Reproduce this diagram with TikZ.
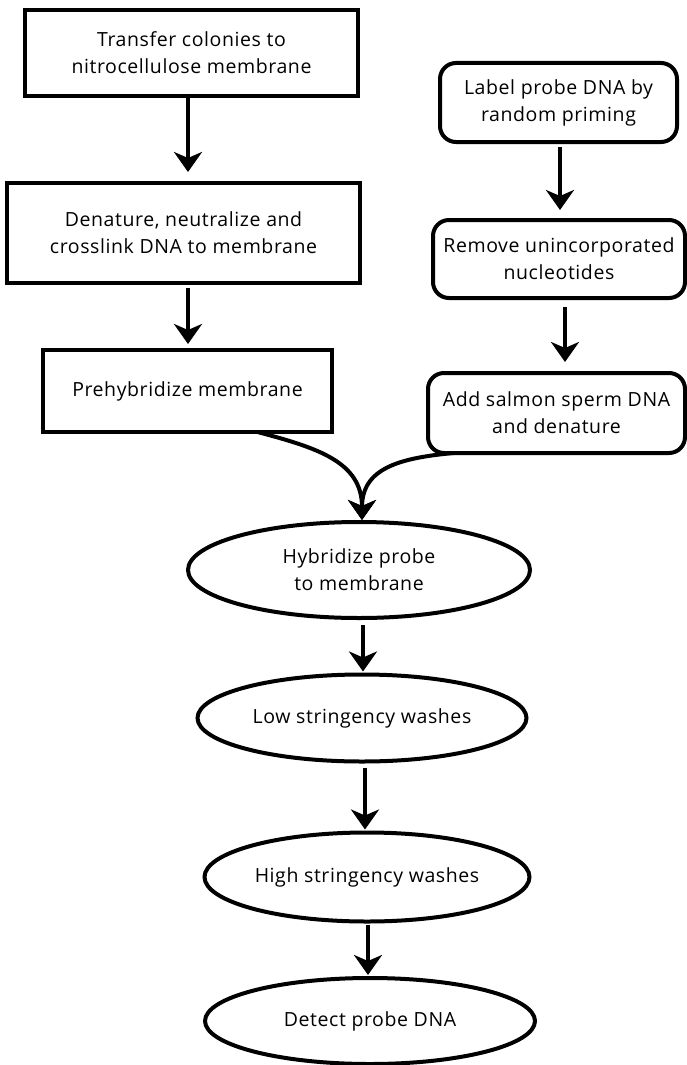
\documentclass[tikz,border=0pt]{standalone}
\usepackage{fontspec}
\setmainfont{Open Sans}[LetterSpace=3]
\usetikzlibrary{arrows.meta,shapes.geometric}
\begin{document}
\begin{tikzpicture}[x=1pt,y=-1pt,
  txt/.style={font=\fontsize{19.5}{27}\selectfont, align=center, inner sep=0pt, outer sep=0pt},
  sq/.style={txt, draw, rectangle, line width=4.5pt},
  rd/.style={txt, draw, rectangle, rounded corners=16pt, line width=4pt},
  el/.style={txt, draw, ellipse, line width=4pt},
  arr/.style={line width=4pt, -{Stealth[length=20pt,width=28pt,inset=6pt]}}]
\fill[white] (0,0) rectangle (687,1065);
\useasboundingbox (0,0) rectangle (687,1065);

\node[sq, minimum width=333pt, minimum height=86pt] (b1) at (191.5,53) {Transfer colonies to\\nitrocellulose membrane};
\node[sq, minimum width=353pt, minimum height=100pt] (b2) at (183.5,233) {Denature, neutralize and\\crosslink DNA to membrane};
\node[sq, minimum width=289pt, minimum height=82pt] (b3) at (187.5,391) {Prehybridize membrane};

\node[rd, minimum width=237pt, minimum height=79pt] (lab) at (558.5,102.5) {Label probe DNA by\\random priming};
\node[rd, minimum width=252pt, minimum height=78pt] (rem) at (559,259) {Remove unincorporated\\nucleotides};
\node[rd, minimum width=257pt, minimum height=80pt] (add) at (556.5,413) {Add salmon sperm DNA\\and denature};

\node[el, minimum width=342pt, minimum height=96pt] (e1) at (359,570) {Hybridize probe\\to membrane};
\node[el, minimum width=329pt, minimum height=87pt] (e2) at (362,718) {Low stringency washes};
\node[el, minimum width=325pt, minimum height=89pt] (e3) at (367,877) {High stringency washes};
\node[el, minimum width=330pt, minimum height=86pt] (e4) at (370,1021) {Detect probe DNA};

\draw[arr] ([xshift=-3.5pt,yshift=-2pt]b1.south) -- ([xshift=4.5pt,yshift=11pt]b2.north);
\draw[arr] ([xshift=4.5pt,yshift=-5pt]b2.south) -- ([xshift=0.5pt,yshift=6pt]b3.north);
\draw[arr] ([xshift=1.5pt,yshift=-5pt]lab.south) -- ([xshift=1pt,yshift=10pt]rem.north);
\draw[arr] ([xshift=6pt,yshift=-9pt]rem.south) -- ([xshift=8.5pt,yshift=11pt]add.north);

\draw[arr] ([xshift=70pt]b3.south) .. controls (318,448) and (362,462) .. ([xshift=3pt,yshift=2pt]e1.north);
\draw[arr] ([xshift=-103pt]add.south) .. controls (400,458) and (362,468) .. ([xshift=3pt,yshift=2pt]e1.north);

\draw[arr] ([xshift=4pt,yshift=-7pt]e1.south) -- ([xshift=1pt,yshift=3pt]e2.north);
\draw[arr] ([xshift=3pt,yshift=-6pt]e2.south) -- ([xshift=-2pt,yshift=3pt]e3.north);
\draw[arr] ([xshift=1pt,yshift=-3pt]e3.south) -- ([xshift=-2pt,yshift=3pt]e4.north);
\end{tikzpicture}
\end{document}
